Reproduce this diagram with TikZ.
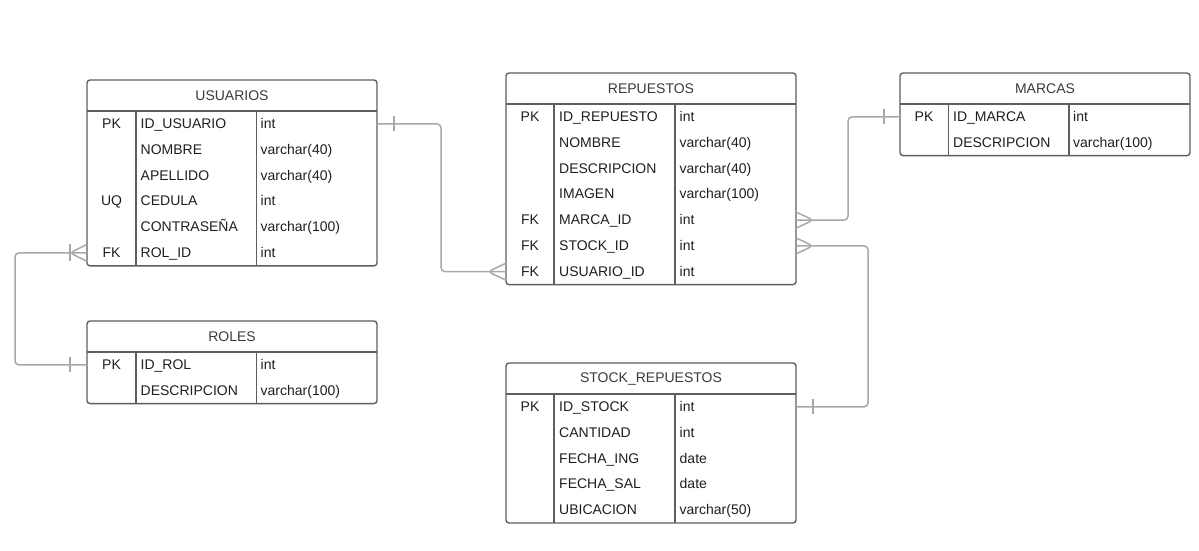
\documentclass[tikz,border=0pt]{standalone}
\usepackage{fontspec}
\setmainfont{Liberation Sans}
\usetikzlibrary{calc,fit,positioning}
\definecolor{ERBorder}{HTML}{5E5E5E}
\definecolor{ERLine}{HTML}{A8A8A8}
\definecolor{ERHead}{HTML}{3A3A3A}
\definecolor{ERText}{HTML}{1E1E1E}
\tikzset{
  cabecera/.style={
    minimum width=290pt,
    minimum height=31pt,
    inner sep=0pt,
    outer sep=0pt,
    font=\fontsize{14}{16}\selectfont,
    text=ERHead
  },
  fila/.style={minimum width=290pt,minimum height=25.8pt,inner sep=0pt,outer sep=0pt},
  clave/.style={anchor=base,inner sep=0pt,font=\fontsize{14}{16}\selectfont,text=ERText},
  campo/.style={anchor=base west,inner sep=0pt,font=\fontsize{14}{16}\selectfont,text=ERText},
  tabla/.style={draw=ERBorder,line width=1.4pt,rounded corners=3pt,inner sep=0pt},
  borde/.style={draw=ERBorder,line width=1.4pt},
  rel/.style={draw=ERLine,line width=1.5pt,rounded corners=4pt}
}

\begin{document}
\begin{tikzpicture}[x=1pt,y=-1pt]
  \useasboundingbox (0,0) rectangle (1199,550);

  % USUARIOS
  \node[cabecera] (usu-0) at (232,95.5) {USUARIOS};
  \foreach \clave/\campo/\tipo [count=\i] in {PK/ID\_USUARIO/int, {}/NOMBRE/varchar(40), {}/APELLIDO/varchar(40), UQ/CEDULA/int, {}/CONTRASEÑA/varchar(100), FK/ROL\_ID/int}{
    \pgfmathtruncatemacro\prev{\i-1}
    \node[fila, below=0pt of usu-\prev] (usu-\i) {};
    \node[clave] at ($(usu-\i.west)+(24.5,4.6)$) {\clave};
    \node[campo] at ($(usu-\i.west)+(53.5,4.6)$) {\campo};
    \node[campo] at ($(usu-\i.west)+(173.5,4.6)$) {\tipo};
  }
  \node[tabla, fit=(usu-0)(usu-6)] (usuarios) {};
  \draw[borde] (usu-0.south west) -- (usu-0.south east);
  \draw[borde] ($(usu-1.north west)+(49,0)$) -- ($(usu-6.south west)+(49,0)$);
  \draw[borde] ($(usu-1.north west)+(169.5,0)$) -- ($(usu-6.south west)+(169.5,0)$);

  % ROLES
  \node[cabecera] (rol-0) at (232,336.5) {ROLES};
  \foreach \clave/\campo/\tipo [count=\i] in {PK/ID\_ROL/int, {}/DESCRIPCION/varchar(100)}{
    \pgfmathtruncatemacro\prev{\i-1}
    \node[fila, below=0pt of rol-\prev] (rol-\i) {};
    \node[clave] at ($(rol-\i.west)+(24.5,4.6)$) {\clave};
    \node[campo] at ($(rol-\i.west)+(53.5,4.6)$) {\campo};
    \node[campo] at ($(rol-\i.west)+(173.5,4.6)$) {\tipo};
  }
  \node[tabla, fit=(rol-0)(rol-2)] (roles) {};
  \draw[borde] (rol-0.south west) -- (rol-0.south east);
  \draw[borde] ($(rol-1.north west)+(49,0)$) -- ($(rol-2.south west)+(49,0)$);
  \draw[borde] ($(rol-1.north west)+(169.5,0)$) -- ($(rol-2.south west)+(169.5,0)$);

  % REPUESTOS
  \node[cabecera] (rep-0) at (651,88.5) {REPUESTOS};
  \foreach \clave/\campo/\tipo [count=\i] in {PK/ID\_REPUESTO/int, {}/NOMBRE/varchar(40), {}/DESCRIPCION/varchar(40), {}/IMAGEN/varchar(100), FK/MARCA\_ID/int, FK/STOCK\_ID/int, FK/USUARIO\_ID/int}{
    \pgfmathtruncatemacro\prev{\i-1}
    \node[fila, below=0pt of rep-\prev] (rep-\i) {};
    \node[clave] at ($(rep-\i.west)+(24,4.6)$) {\clave};
    \node[campo] at ($(rep-\i.west)+(53,4.6)$) {\campo};
    \node[campo] at ($(rep-\i.west)+(173.5,4.6)$) {\tipo};
  }
  \node[tabla, fit=(rep-0)(rep-7)] (repuestos) {};
  \draw[borde] (rep-0.south west) -- (rep-0.south east);
  \draw[borde] ($(rep-1.north west)+(48,0)$) -- ($(rep-7.south west)+(48,0)$);
  \draw[borde] ($(rep-1.north west)+(169,0)$) -- ($(rep-7.south west)+(169,0)$);

  % MARCAS
  \node[cabecera] (mar-0) at (1045,88.5) {MARCAS};
  \foreach \clave/\campo/\tipo [count=\i] in {PK/ID\_MARCA/int, {}/DESCRIPCION/varchar(100)}{
    \pgfmathtruncatemacro\prev{\i-1}
    \node[fila, below=0pt of mar-\prev] (mar-\i) {};
    \node[clave] at ($(mar-\i.west)+(24,4.6)$) {\clave};
    \node[campo] at ($(mar-\i.west)+(53,4.6)$) {\campo};
    \node[campo] at ($(mar-\i.west)+(173,4.6)$) {\tipo};
  }
  \node[tabla, fit=(mar-0)(mar-2)] (marcas) {};
  \draw[borde] (mar-0.south west) -- (mar-0.south east);
  \draw[borde] ($(mar-1.north west)+(48.5,0)$) -- ($(mar-2.south west)+(48.5,0)$);
  \draw[borde] ($(mar-1.north west)+(169,0)$) -- ($(mar-2.south west)+(169,0)$);

  % STOCK_REPUESTOS
  \node[cabecera] (sto-0) at (651,378.5) {STOCK\_REPUESTOS};
  \foreach \clave/\campo/\tipo [count=\i] in {PK/ID\_STOCK/int, {}/CANTIDAD/int, {}/FECHA\_ING/date, {}/FECHA\_SAL/date, {}/UBICACION/varchar(50)}{
    \pgfmathtruncatemacro\prev{\i-1}
    \node[fila, below=0pt of sto-\prev] (sto-\i) {};
    \node[clave] at ($(sto-\i.west)+(24,4.6)$) {\clave};
    \node[campo] at ($(sto-\i.west)+(53,4.6)$) {\campo};
    \node[campo] at ($(sto-\i.west)+(173.5,4.6)$) {\tipo};
  }
  \node[tabla, fit=(sto-0)(sto-5)] (stock) {};
  \draw[borde] (sto-0.south west) -- (sto-0.south east);
  \draw[borde] ($(sto-1.north west)+(48,0)$) -- ($(sto-5.south west)+(48,0)$);
  \draw[borde] ($(sto-1.north west)+(169,0)$) -- ($(sto-5.south west)+(169,0)$);

  % relaciones
  \draw[rel] (usu-1.east) -- ++(64,0) |- (rep-7.west);
  \draw[rel] ($(usu-1.east)+(17,-7.5)$) -- ++(0,15);
  \draw[rel] ($(rep-7.west)+(0,-8.5)$) -- ++(-18,8.5) -- ++(18,8.5);

  \draw[rel] (usu-6.west) -- ++(-72,0) |- (rol-1.west);
  \draw[rel] ($(usu-6.west)+(-17,-8.5)$) -- ++(0,17);
  \draw[rel] ($(usu-6.west)+(0,-8.5)$) -- ++(-17,8.5) -- ++(17,8.5);
  \draw[rel] ($(rol-1.west)+(-17,-7.5)$) -- ++(0,15);

  \draw[rel] (rep-5.east) -- ++(52,0) |- (mar-1.west);
  \draw[rel] ($(rep-5.east)+(0,-8)$) -- ++(17.5,8) -- ++(-17.5,8);
  \draw[rel] ($(mar-1.west)+(-16,-7.5)$) -- ++(0,15);

  \draw[rel] (rep-6.east) -- ++(72,0) |- (sto-1.east);
  \draw[rel] ($(rep-6.east)+(0,-8)$) -- ++(17,8) -- ++(-17,8);
  \draw[rel] ($(sto-1.east)+(17,-7.5)$) -- ++(0,15);
\end{tikzpicture}
\end{document}
